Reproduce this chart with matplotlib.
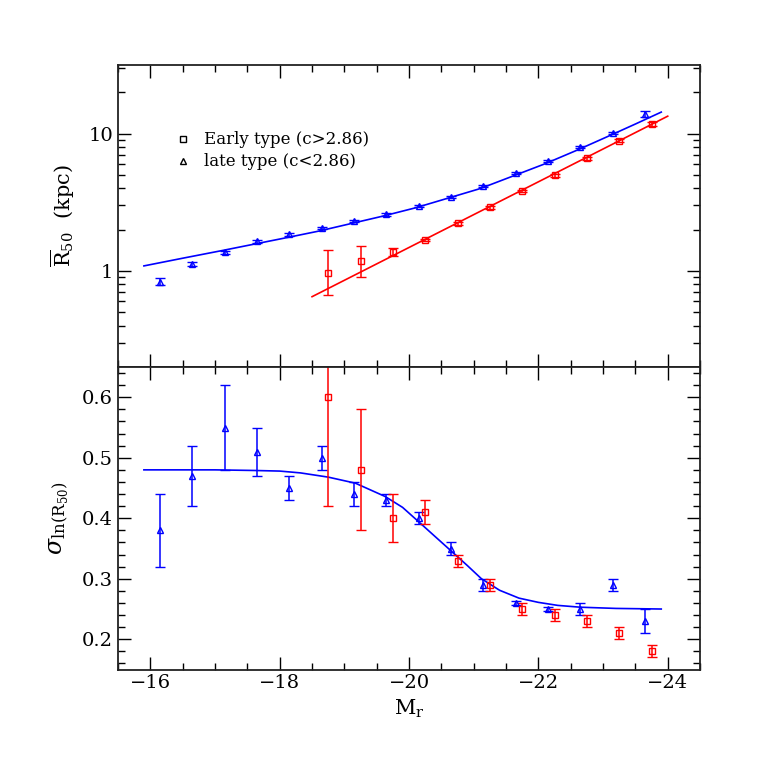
import numpy as np
import matplotlib
matplotlib.use("Agg")
import matplotlib.pyplot as plt
from matplotlib.ticker import MultipleLocator, LogLocator, FixedLocator, NullFormatter, FixedFormatter

plt.rcParams['font.family'] = ['DejaVu Serif']
plt.rcParams['mathtext.fontset'] = 'dejavuserif'

# magnitudes of the bins
m_late = [-16.15, -16.65, -17.15, -17.65, -18.15, -18.65, -19.15, -19.65,
          -20.15, -20.65, -21.15, -21.65, -22.15, -22.65, -23.15, -23.65]
m_early = [-18.75, -19.25, -19.75, -20.25, -20.75, -21.25, -21.75, -22.25,
           -22.75, -23.25, -23.75]

# top panel: median R50 (kpc)
r_late = [0.836, 1.12, 1.37, 1.65, 1.85, 2.06, 2.31, 2.58,
          2.97, 3.45, 4.16, 5.15, 6.37, 7.95, 10.1, 13.9]
r_late_err = [0.05, 0.04, 0.03, 0.04, 0.04, 0.04, 0.04, 0.05,
              0.05, 0.06, 0.07, 0.09, 0.11, 0.14, 0.2, 0.6]
r_early = [0.97, 1.18, 1.38, 1.68, 2.22, 2.90, 3.83, 4.98, 6.62, 8.9, 11.7]
r_early_lo = [0.30, 0.27, 0.09, 0.04, 0.04, 0.06, 0.08, 0.12, 0.15, 0.2, 0.4]
r_early_hi = [0.45, 0.35, 0.10, 0.04, 0.04, 0.06, 0.08, 0.12, 0.15, 0.2, 0.4]

# fitted relations
fit_late_m = [-15.9, -16.5, -17.1, -17.6, -18.1, -18.6, -19.1, -19.6, -20.1,
              -20.6, -21.1, -21.6, -22.1, -22.6, -23.1, -23.5, -23.9]
fit_late_r = [1.089, 1.239, 1.406, 1.567, 1.746, 1.950, 2.213, 2.512, 2.884,
              3.388, 3.981, 4.898, 6.026, 7.586, 9.66, 11.75, 14.35]
fit_early_m = [-18.5, -24.0]
fit_early_r = [0.65, 13.4]

# bottom panel: dispersion of ln R50
s_late = [0.38, 0.47, 0.55, 0.51, 0.45, 0.50, 0.44, 0.43,
          0.40, 0.35, 0.29, 0.26, 0.25, 0.25, 0.29, 0.23]
s_late_err = [0.06, 0.05, 0.07, 0.04, 0.02, 0.02, 0.02, 0.01,
              0.01, 0.01, 0.01, 0.003, 0.003, 0.01, 0.01, 0.02]
s_early = [0.60, 0.48, 0.40, 0.41, 0.33, 0.29, 0.25, 0.24, 0.23, 0.21, 0.18]
s_early_err = [0.18, 0.10, 0.04, 0.02, 0.01, 0.01, 0.01, 0.01, 0.01, 0.01, 0.01]

fit_sig_m = [-15.9, -17.0, -17.6, -18.0, -18.32, -18.75, -19.17, -19.63,
             -19.9, -20.12, -20.38, -20.63, -20.9, -21.12, -21.4, -21.7,
             -22.0, -22.3, -22.65, -23.2, -23.9]
fit_sig_s = [0.48, 0.48, 0.479, 0.478, 0.475, 0.468, 0.458, 0.436,
             0.418, 0.397, 0.372, 0.348, 0.322, 0.30, 0.281, 0.268,
             0.261, 0.256, 0.253, 0.251, 0.25]

legend_labels = ['Early type (c>2.86)', 'late type (c<2.86)']

fig = plt.figure(figsize=(7.63, 7.63), dpi=100)
ax1 = fig.add_axes([0.1547, 0.519, 0.7628, 0.3958])
ax2 = fig.add_axes([0.1547, 0.1225, 0.7628, 0.3965])

ekw = dict(linestyle='none', markersize=5, mfc='none', mew=1.0,
           elinewidth=1.1, capsize=3.5, capthick=1.1)

# top panel
ax1.plot(fit_late_m, fit_late_r, color='blue', lw=1.2)
ax1.plot(fit_early_m, fit_early_r, color='red', lw=1.2)
ax1.errorbar(m_late, r_late, yerr=r_late_err, marker='^', color='blue', **ekw)
ax1.errorbar(m_early, r_early, yerr=[r_early_lo, r_early_hi], marker='s',
             color='red', **ekw)
ax1.set_yscale('log')
ax1.set_ylim(0.2, 31.6)
ax1.yaxis.set_major_locator(FixedLocator([1, 10]))
ax1.yaxis.set_major_formatter(FixedFormatter(['1', '10']))
ax1.yaxis.set_minor_locator(LogLocator(base=10, subs=np.arange(2, 10)))
ax1.yaxis.set_minor_formatter(NullFormatter())
ax1.set_ylabel(r'$\overline{\rm R}_{50}$  (kpc)', fontsize=15, labelpad=8)

# legend drawn by hand
for i, (mk, lab) in enumerate(zip(['s', '^'], legend_labels)):
    y = 0.754 - i * 0.072
    ax1.plot([0.111], [y], transform=ax1.transAxes, marker=mk, color='k',
             mfc='none', markersize=5, mew=1.0, linestyle='none')
    ax1.text(0.148, y, lab, transform=ax1.transAxes, fontsize=12,
             va='center', ha='left')

# bottom panel
ax2.plot(fit_sig_m, fit_sig_s, color='blue', lw=1.2)
ax2.errorbar(m_late, s_late, yerr=s_late_err, marker='^', color='blue', **ekw)
ax2.errorbar(m_early, s_early, yerr=s_early_err, marker='s', color='red', **ekw)
ax2.set_ylim(0.15, 0.65)
ax2.yaxis.set_major_locator(MultipleLocator(0.1))
ax2.yaxis.set_minor_locator(MultipleLocator(0.02))
ax2.set_ylabel(r'$\sigma_{\rm ln(R_{50})}$', fontsize=17, labelpad=8)
ax2.set_xlabel(r'$\rm M_r$', fontsize=15)

for ax in (ax1, ax2):
    ax.set_xlim(-15.5, -24.5)
    ax.xaxis.set_major_locator(MultipleLocator(2))
    ax.xaxis.set_minor_locator(MultipleLocator(0.5))
    ax.tick_params(which='both', direction='in', top=True, right=True,
                   labelsize=14, width=1.0)
    ax.tick_params(which='major', length=9.5)
    ax.tick_params(which='minor', length=5)
    for sp in ax.spines.values():
        sp.set_linewidth(1.3)
        sp.set_color('#222222')
ax1.tick_params(labelbottom=False)

fig.savefig('out.png', dpi=100)
